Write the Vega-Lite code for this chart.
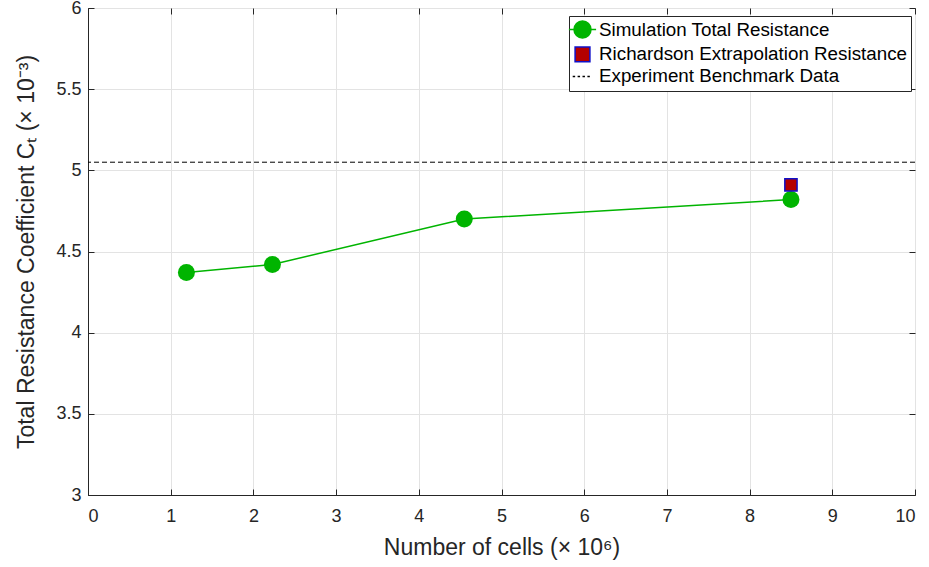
{
  "$schema": "https://vega.github.io/schema/vega-lite/v6.json",
  "width": 827,
  "height": 487,
  "autosize": {"type": "none"},
  "padding": {"left": 88, "top": 8, "right": 14, "bottom": 72},
  "background": "white",
  "config": {
    "font": "Liberation Sans",
    "view": {"stroke": "#262626", "strokeWidth": 1},
    "axis": {
      "labelFont": "Liberation Sans",
      "titleFont": "Liberation Sans",
      "labelColor": "#262626",
      "titleColor": "#262626",
      "labelFontSize": 18,
      "titleFontSize": 23,
      "titleFontWeight": "normal",
      "domainColor": "#262626",
      "tickColor": "#262626",
      "gridColor": "#e3e3e3",
      "gridOpacity": 1
    }
  },
  "datasets": {
    "cells": [
      {"series": "Simulation Total Resistance", "cells": 1.19, "ct": 4.37},
      {"series": "Simulation Total Resistance", "cells": 2.23, "ct": 4.42},
      {"series": "Simulation Total Resistance", "cells": 4.55, "ct": 4.70},
      {"series": "Simulation Total Resistance", "cells": 8.50, "ct": 4.82},
      {"series": "Richardson Extrapolation Resistance", "cells": 8.50, "ct": 4.91},
      {"series": "Experiment Benchmark Data", "cells": null, "ct": 5.05}
    ]
  },
  "data": {"name": "cells"},
  "resolve": {"axis": {"x": "independent", "y": "independent"}},
  "layer": [
    {
      "transform": [{"filter": "datum.series === 'Simulation Total Resistance'"}],
      "mark": {"type": "line", "color": "#00b400", "strokeWidth": 1.5},
      "encoding": {
        "x": {
          "field": "cells", "type": "quantitative",
          "scale": {"domain": [0, 10], "nice": false},
          "axis": {
            "orient": "bottom", "values": [0,1,2,3,4,5,6,7,8,9,10], "format": "d",
            "title": "Number of cells (× 10⁶)", "titlePadding": 11,
            "tickSize": -6, "labelPadding": 18, "grid": true
          }
        },
        "y": {
          "field": "ct", "type": "quantitative",
          "scale": {"domain": [3, 6], "nice": false, "zero": false},
          "axis": {
            "orient": "left", "values": [3,3.5,4,4.5,5,5.5,6], "format": "~g",
            "title": "Total Resistance Coefficient Cₜ (× 10⁻³)", "titlePadding": 17,
            "tickSize": -6, "labelPadding": 13, "grid": true
          }
        }
      }
    },
    {
      "transform": [{"filter": "datum.series === 'Simulation Total Resistance'"}],
      "mark": {"type": "point", "shape": "circle", "filled": true, "color": "#00b400", "size": 289, "opacity": 1},
      "encoding": {
        "x": {"field": "cells", "type": "quantitative", "axis": null},
        "y": {"field": "ct", "type": "quantitative", "axis": null}
      }
    },
    {
      "transform": [{"filter": "datum.series === 'Richardson Extrapolation Resistance'"}],
      "mark": {"type": "point", "shape": "square", "filled": true, "fill": "#b40000", "stroke": "#1010c8", "strokeWidth": 1.5, "size": 150, "opacity": 1},
      "encoding": {
        "x": {"field": "cells", "type": "quantitative", "axis": null},
        "y": {"field": "ct", "type": "quantitative", "axis": null}
      }
    },
    {
      "transform": [{"filter": "datum.series === 'Experiment Benchmark Data'"}],
      "mark": {"type": "rule", "color": "black", "strokeWidth": 1, "strokeDash": [5, 3]},
      "encoding": {
        "y": {"field": "ct", "type": "quantitative", "axis": null}
      }
    },
    {
      "transform": [{"filter": "datum.series === 'legend only'"}],
      "mark": {"type": "point", "opacity": 1, "strokeWidth": 1.5},
      "encoding": {
        "x": {
          "field": "cells", "type": "quantitative",
          "axis": {"orient": "top", "values": [0,1,2,3,4,5,6,7,8,9,10], "labels": false, "title": null, "grid": false, "domain": false, "tickSize": -6}
        },
        "y": {
          "field": "ct", "type": "quantitative",
          "axis": {"orient": "right", "values": [3,3.5,4,4.5,5,5.5,6], "labels": false, "title": null, "grid": false, "domain": false, "tickSize": -6}
        },
        "shape": {
          "field": "series", "type": "nominal",
          "scale": {
            "domain": ["Simulation Total Resistance", "Richardson Extrapolation Resistance", "Experiment Benchmark Data"],
            "range": [
              "M-1.6,0H1.6M-1,0A1,1 0 1,1 1,0A1,1 0 1,1 -1,0Z",
              "square",
              "M-1.6,0H-1.2M-0.8,0H-0.4M0,0H0.4M0.8,0H1.2"
            ]
          },
          "legend": {
            "title": null,
            "orient": "none",
            "legendX": 481,
            "legendY": 8,
            "fillColor": "white",
            "strokeColor": "#262626",
            "padding": 4,
            "labelFont": "Liberation Sans",
            "labelFontSize": 18.8,
            "labelColor": "#000000",
            "labelOffset": 7,
            "rowPadding": 2,
            "labelLimit": 400
          }
        },
        "fill": {
          "field": "series", "type": "nominal",
          "scale": {
            "domain": ["Simulation Total Resistance", "Richardson Extrapolation Resistance", "Experiment Benchmark Data"],
            "range": ["#00b400", "#b40000", "transparent"]
          }
        },
        "stroke": {
          "field": "series", "type": "nominal",
          "scale": {
            "domain": ["Simulation Total Resistance", "Richardson Extrapolation Resistance", "Experiment Benchmark Data"],
            "range": ["#00b400", "#1010c8", "#000000"]
          }
        },
        "size": {
          "field": "series", "type": "nominal",
          "scale": {
            "domain": ["Simulation Total Resistance", "Richardson Extrapolation Resistance", "Experiment Benchmark Data"],
            "range": [289, 150, 289]
          }
        }
      }
    }
  ]
}
